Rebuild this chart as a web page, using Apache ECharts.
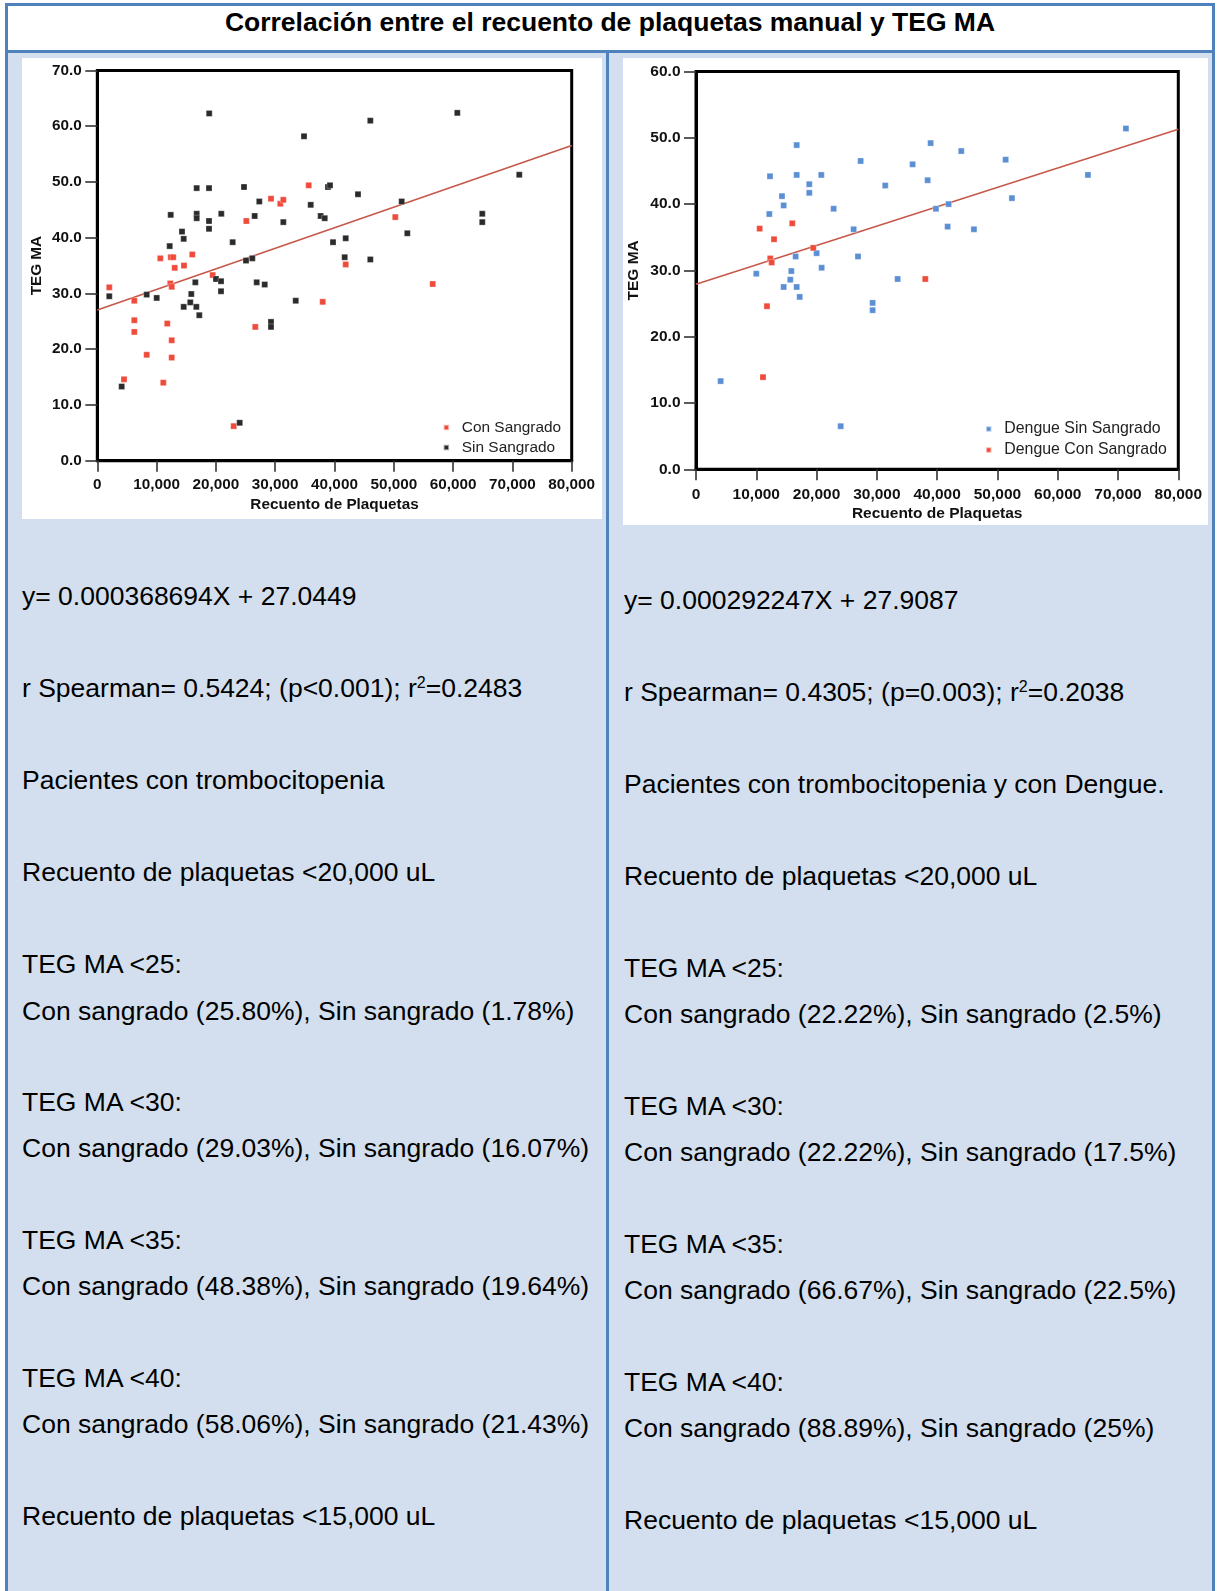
<!DOCTYPE html>
<html>
<head>
<meta charset="utf-8">
<script src="https://cdn.jsdelivr.net/npm/echarts@6/dist/echarts.min.js"></script>
<style>
  html, body { margin: 0; padding: 0; }
  body { width: 1217px; height: 1591px; position: relative; overflow: hidden; background: #ffffff;
         font-family: "Liberation Sans", Arial, Helvetica, sans-serif; }
  .bd { position: absolute; background: #4f81bd; }
  .cell { position: absolute; background: #d3dfee; }
  .chart { position: absolute; background: #ffffff; }
  .t { position: absolute; font-size: 26.5px; line-height: 30px; color: #000; white-space: nowrap; }
  .title { position: absolute; left: 0; width: 1220px; text-align: center; font-weight: bold;
           font-size: 26.5px; line-height: 30px; top: 7px; color: #000; white-space: nowrap; }
  sup { font-size: 16px; line-height: 0; vertical-align: 0.55em; }
</style>
</head>
<body>
<div class="cell" style="left:8px; top:52px; width:598px; height:1545px;"></div>
<div class="cell" style="left:609px; top:52px; width:603px; height:1545px;"></div>

<div class="bd" style="left:5px; top:3px; width:1210px; height:3px;"></div>
<div class="bd" style="left:5px; top:3px; width:3px; height:1600px;"></div>
<div class="bd" style="left:1212px; top:3px; width:3px; height:1600px;"></div>
<div class="bd" style="left:5px; top:50px; width:1210px; height:3px;"></div>
<div class="bd" style="left:606px; top:50px; width:3px; height:1600px;"></div>

<div class="title">Correlación entre el recuento de plaquetas manual y TEG MA</div>

<div id="chartL" class="chart" style="left:22px; top:58px; width:580px; height:461px;"></div>
<div id="chartR" class="chart" style="left:623px; top:58px; width:585px; height:467px;"></div>

<div class="t" style="left:22px; top:581px;">y= 0.000368694X + 27.0449</div>
<div class="t" style="left:22px; top:673px;">r Spearman= 0.5424; (p&lt;0.001); r<sup>2</sup>=0.2483</div>
<div class="t" style="left:22px; top:765px;">Pacientes con trombocitopenia</div>
<div class="t" style="left:22px; top:857px;">Recuento de plaquetas &lt;20,000 uL</div>
<div class="t" style="left:22px; top:949px;">TEG MA &lt;25:</div>
<div class="t" style="left:22px; top:996px;">Con sangrado (25.80%), Sin sangrado (1.78%)</div>
<div class="t" style="left:22px; top:1087px;">TEG MA &lt;30:</div>
<div class="t" style="left:22px; top:1133px;">Con sangrado (29.03%), Sin sangrado (16.07%)</div>
<div class="t" style="left:22px; top:1225px;">TEG MA &lt;35:</div>
<div class="t" style="left:22px; top:1271px;">Con sangrado (48.38%), Sin sangrado (19.64%)</div>
<div class="t" style="left:22px; top:1363px;">TEG MA &lt;40:</div>
<div class="t" style="left:22px; top:1409px;">Con sangrado (58.06%), Sin sangrado (21.43%)</div>
<div class="t" style="left:22px; top:1501px;">Recuento de plaquetas &lt;15,000 uL</div>

<div class="t" style="left:624px; top:585px;">y= 0.000292247X + 27.9087</div>
<div class="t" style="left:624px; top:677px;">r Spearman= 0.4305; (p=0.003); r<sup>2</sup>=0.2038</div>
<div class="t" style="left:624px; top:769px;">Pacientes con trombocitopenia y con Dengue.</div>
<div class="t" style="left:624px; top:861px;">Recuento de plaquetas &lt;20,000 uL</div>
<div class="t" style="left:624px; top:953px;">TEG MA &lt;25:</div>
<div class="t" style="left:624px; top:999px;">Con sangrado (22.22%), Sin sangrado (2.5%)</div>
<div class="t" style="left:624px; top:1091px;">TEG MA &lt;30:</div>
<div class="t" style="left:624px; top:1137px;">Con sangrado (22.22%), Sin sangrado (17.5%)</div>
<div class="t" style="left:624px; top:1229px;">TEG MA &lt;35:</div>
<div class="t" style="left:624px; top:1275px;">Con sangrado (66.67%), Sin sangrado (22.5%)</div>
<div class="t" style="left:624px; top:1367px;">TEG MA &lt;40:</div>
<div class="t" style="left:624px; top:1413px;">Con sangrado (88.89%), Sin sangrado (25%)</div>
<div class="t" style="left:624px; top:1505px;">Recuento de plaquetas &lt;15,000 uL</div>

<script>
// ---------- data ----------
const xTickLabels = ['0', '10,000', '20,000', '30,000', '40,000', '50,000', '60,000', '70,000', '80,000'];
const leftYTickLabels = ['0.0', '10.0', '20.0', '30.0', '40.0', '50.0', '60.0', '70.0'];
const rightYTickLabels = ['0.0', '10.0', '20.0', '30.0', '40.0', '50.0', '60.0'];

const leftConSangrado = [
  [2020, 31.1], [4500, 14.6], [6240, 28.7], [6240, 25.2], [6240, 23.1], [8330, 19.0],
  [10630, 36.3], [11130, 14.0], [11800, 24.6], [12310, 31.8], [12550, 31.2], [12400, 36.5],
  [12800, 36.5], [12550, 21.6], [12550, 18.5], [13050, 34.6], [14620, 35.0], [16020, 37.0],
  [19460, 33.3], [23000, 6.2], [25130, 43.0], [26640, 24.0], [29290, 47.0], [30860, 46.1],
  [31370, 46.8], [35650, 49.4], [38010, 28.5], [41890, 35.2], [50250, 43.7], [56560, 31.7]
];
const leftSinSangrado = [
  [2020, 29.5], [4110, 13.3], [8330, 29.8], [10020, 29.2], [12210, 38.5], [12380, 44.1],
  [14280, 41.1], [14570, 39.8], [14570, 27.6], [15680, 28.4], [15850, 29.9], [16530, 32.0],
  [16700, 27.6], [16760, 48.9], [16760, 44.3], [16760, 43.5], [17200, 26.1], [18840, 48.9],
  [18870, 62.3], [18840, 43.0], [18840, 41.6], [20020, 32.6], [20860, 32.2], [20860, 30.4],
  [20910, 44.3], [22830, 39.2], [24010, 6.8], [24740, 49.1], [25080, 35.9], [26140, 36.3],
  [26540, 43.9], [26880, 32.0], [27320, 46.5], [28230, 31.6], [29290, 24.9], [29290, 24.0],
  [31370, 42.8], [33460, 28.7], [34860, 58.2], [35990, 45.9], [37670, 43.9], [38350, 43.5],
  [38900, 49.1], [39240, 49.4], [39750, 39.2], [41720, 36.5], [41890, 39.9], [43960, 47.8],
  [46040, 61.0], [46040, 36.1], [51330, 46.5], [52280, 40.8], [60710, 62.4], [64920, 44.3],
  [64920, 42.8], [71160, 51.3]
];
const leftFit = [[0, 27.04], [80000, 56.54]];

const rightDengueSin = [
  [4090, 13.3], [10000, 29.5], [12160, 38.5], [12270, 44.2], [14260, 41.2], [14540, 39.8],
  [14540, 27.5], [15640, 28.6], [15810, 29.9], [16530, 32.1], [16700, 48.9], [16700, 44.4],
  [16700, 27.5], [17200, 26.0], [18790, 43.0], [18790, 41.7], [20010, 32.6], [20780, 44.4],
  [20840, 30.4], [22830, 39.3], [24000, 6.5], [26150, 36.2], [26870, 32.1], [27310, 46.5],
  [29300, 25.1], [29300, 24.0], [31390, 42.8], [33450, 28.7], [35930, 46.0], [38420, 43.6],
  [38920, 49.2], [39800, 39.3], [41740, 36.6], [41900, 40.0], [44000, 48.0], [46100, 36.2],
  [51360, 46.7], [52400, 40.9], [65010, 44.4], [71310, 51.4]
];
const rightDengueCon = [
  [10560, 36.3], [11110, 13.9], [11770, 24.6], [12320, 31.8], [12550, 31.2], [12940, 34.7],
  [15970, 37.1], [19450, 33.4], [38030, 28.7]
];
const rightFit = [[0, 27.91], [80000, 51.29]];

// ---------- chart builder ----------
const FONT = '"Liberation Sans", Arial, Helvetica, sans-serif';
const RED = '#ef4a3a', DARK = '#2b2b2b', BLUE = '#5b8fd3', FIT = '#c6594b';

function makeOption(cfg) {
  const bold = { fontFamily: FONT, fontWeight: 'bold', fontSize: cfg.fs, color: '#111' };
  return {
    animation: false,
    textStyle: { fontFamily: FONT },
    grid: { left: cfg.gl, top: cfg.gt, width: cfg.gw, height: cfg.gh,
            containLabel: false, outerBoundsMode: 'none',
            show: true, borderColor: '#000', borderWidth: 3, backgroundColor: 'transparent' },
    xAxis: {
      type: 'value', min: 0, max: 80000, interval: 10000,
      name: 'Recuento de Plaquetas', nameLocation: 'middle', nameGap: cfg.xng,
      nameMoveOverlap: false,
      nameTextStyle: bold,
      axisLine: { show: true, lineStyle: { color: '#000', width: 3 } },
      axisTick: { show: true, length: 11, lineStyle: { color: '#333', width: 1.6 } },
      axisLabel: Object.assign({ margin: cfg.xlm, formatter: v => xTickLabels[Math.round(v / 10000)] }, bold),
      splitLine: { show: false }
    },
    yAxis: {
      type: 'value', min: 0, max: cfg.ymax, interval: 10,
      name: 'TEG MA', nameLocation: 'middle', nameGap: cfg.yng, nameRotate: 90,
      nameMoveOverlap: false,
      nameTextStyle: bold,
      axisLine: { show: true, lineStyle: { color: '#000', width: 3 } },
      axisTick: { show: true, length: 12, lineStyle: { color: '#333', width: 1.6 } },
      axisLabel: Object.assign({ margin: cfg.ylm, formatter: v => cfg.yTicks[Math.round(v / 10)] }, bold),
      splitLine: { show: false }
    },
    legend: {
      orient: 'vertical', left: cfg.lgl, top: cfg.lgt, padding: 0,
      itemWidth: 21, itemHeight: 5.5, itemGap: 2,
      icon: 'path://M0,0L10,0L10,10L0,10Z',
      textStyle: { fontFamily: FONT, fontSize: cfg.lfs, color: '#222', lineHeight: cfg.llh },
      data: cfg.series.map(s => s.name)
    },
    series: [
      { type: 'line', data: cfg.fit, symbol: 'none', silent: true, z: 1,
        lineStyle: { color: FIT, width: 1.7 } }
    ].concat(cfg.series.map(s => ({
      name: s.name, type: 'scatter', symbol: 'rect', symbolSize: 6, z: 3,
      itemStyle: { color: s.color, borderColor: 'rgba(255,255,255,0.6)', borderWidth: 0.5, opacity: 1 },
      data: s.data
    })))
  };
}

const chartL = echarts.init(document.getElementById('chartL'), null, { renderer: 'canvas' });
chartL.setOption(makeOption({
  gl: 75.3, gt: 12.5, gw: 474.4, gh: 390.2, ymax: 70, yTicks: leftYTickLabels,
  fs: 15.3, xng: 37, xlm: 17, yng: 53, ylm: 15.5,
  lgl: 420.6, lgt: 360.5, lfs: 15.4, llh: 18,
  fit: leftFit,
  series: [
    { name: 'Con Sangrado', color: RED, data: leftConSangrado },
    { name: 'Sin Sangrado', color: DARK, data: leftSinSangrado }
  ]
}));

const chartR = echarts.init(document.getElementById('chartR'), null, { renderer: 'canvas' });
chartR.setOption(makeOption({
  gl: 73, gt: 13.5, gw: 482.3, gh: 397.8, ymax: 60, yTicks: rightYTickLabels,
  fs: 15.5, xng: 36, xlm: 17, yng: 54.5, ylm: 15.5,
  lgl: 362, lgt: 361.5, lfs: 15.9, llh: 19,
  fit: rightFit,
  series: [
    { name: 'Dengue Sin Sangrado', color: BLUE, data: rightDengueSin },
    { name: 'Dengue Con Sangrado', color: RED, data: rightDengueCon }
  ]
}));
</script>
</body>
</html>
